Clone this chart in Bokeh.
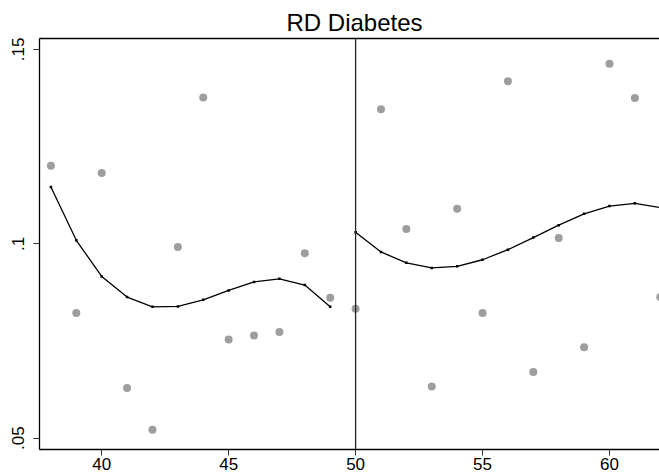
from bokeh.plotting import figure
from bokeh.models import FixedTicker, LinearAxis, Span, Range1d
from bokeh.embed import file_html
from bokeh.resources import INLINE

title_text = "RD Diabetes"
cutoff = 50

# binned means (scatter)
bin_x = [38, 39, 40, 41, 42, 43, 44, 45, 46, 47, 48, 49,
         50, 51, 52, 53, 54, 55, 56, 57, 58, 59, 60, 61, 62]
bin_y = [0.1201, 0.0822, 0.1182, 0.0629, 0.0522, 0.0992, 0.1376, 0.0754, 0.0764, 0.0773, 0.0976, 0.0861,
         0.0833, 0.1346, 0.1038, 0.0633, 0.1090, 0.0822, 0.1418, 0.0670, 0.1015, 0.0734, 0.1463, 0.1375, 0.0863]

# polynomial fit, left of cutoff
fit_left_x = [38, 39, 40, 41, 42, 43, 44, 45, 46, 47, 48, 49]
fit_left_y = [0.1146, 0.1009, 0.0916, 0.0863, 0.0838, 0.0839, 0.0856, 0.0880, 0.0902, 0.0910, 0.0894, 0.0838]

# polynomial fit, right of cutoff
fit_right_x = [50, 51, 52, 53, 54, 55, 56, 57, 58, 59, 60, 61, 62]
fit_right_y = [0.1030, 0.0979, 0.0951, 0.0938, 0.0942, 0.0959, 0.0985, 0.1016, 0.1048, 0.1077, 0.1097, 0.1104, 0.1093]

x_ticks = [40, 45, 50, 55, 60]
y_ticks = [0.05, 0.1, 0.15]
y_tick_labels = [".05", ".1", ".15"]

FONT = "Liberation Sans"

p = figure(width=659, height=476, output_backend="svg", toolbar_location=None,
           x_range=Range1d(37.55, 61.97), y_range=Range1d(0.0471, 0.1528),
           min_border_left=39, min_border_right=0, min_border_top=38, min_border_bottom=27,
           background_fill_color="white", border_fill_color="white")

p.title.text = title_text
p.title.align = "left"
p.title.offset = 247
p.title.standoff = 5
p.title.text_font = FONT
p.title.text_font_size = "24px"
p.title.text_font_style = "normal"
p.title.text_color = "black"

p.outline_line_color = None
p.xgrid.visible = False
p.ygrid.visible = False

# x axis
xa = p.xaxis[0]
xa.ticker = FixedTicker(ticks=x_ticks)
xa.minor_tick_line_color = None
xa.major_tick_out = 6
xa.major_tick_in = 0
xa.major_label_standoff = 2
xa.major_label_text_font = FONT
xa.major_label_text_font_size = "17px"
xa.major_label_text_color = "black"
xa.axis_line_color = "black"
xa.axis_line_width = 1.3
xa.major_tick_line_color = "#333333"

# y axis
ya = p.yaxis[0]
ya.ticker = FixedTicker(ticks=y_ticks)
ya.major_label_overrides = {t: l for t, l in zip(y_ticks, y_tick_labels)}
ya.major_label_orientation = "vertical"
ya.minor_tick_line_color = None
ya.major_tick_out = 6
ya.major_tick_in = 0
ya.major_label_standoff = 9
ya.major_label_text_font = FONT
ya.major_label_text_font_size = "17px"
ya.major_label_text_color = "black"
ya.axis_line_color = "black"
ya.axis_line_width = 1.3
ya.major_tick_line_color = "#333333"

# top border as empty axis
top = LinearAxis(ticker=FixedTicker(ticks=[]), major_tick_out=0, major_tick_in=0,
                 minor_tick_line_color=None, major_label_standoff=0,
                 major_label_text_font_size="0px", axis_line_color="black", axis_line_width=1.3)
p.add_layout(top, "above")

# cutoff line
p.add_layout(Span(location=cutoff, dimension="height", line_color="#222222", line_width=1.3))

# scatter
p.scatter(bin_x, bin_y, size=8, color="#9e9e9e", line_color=None)

# fitted lines
p.line(fit_left_x, fit_left_y, line_color="black", line_width=1.3)
p.scatter(fit_left_x, fit_left_y, size=2.5, marker="square", color="black", line_color=None)
p.line(fit_right_x, fit_right_y, line_color="black", line_width=1.3)
p.scatter(fit_right_x, fit_right_y, size=2.5, marker="square", color="black", line_color=None)

open("out.html", "w").write(file_html(p, INLINE))
